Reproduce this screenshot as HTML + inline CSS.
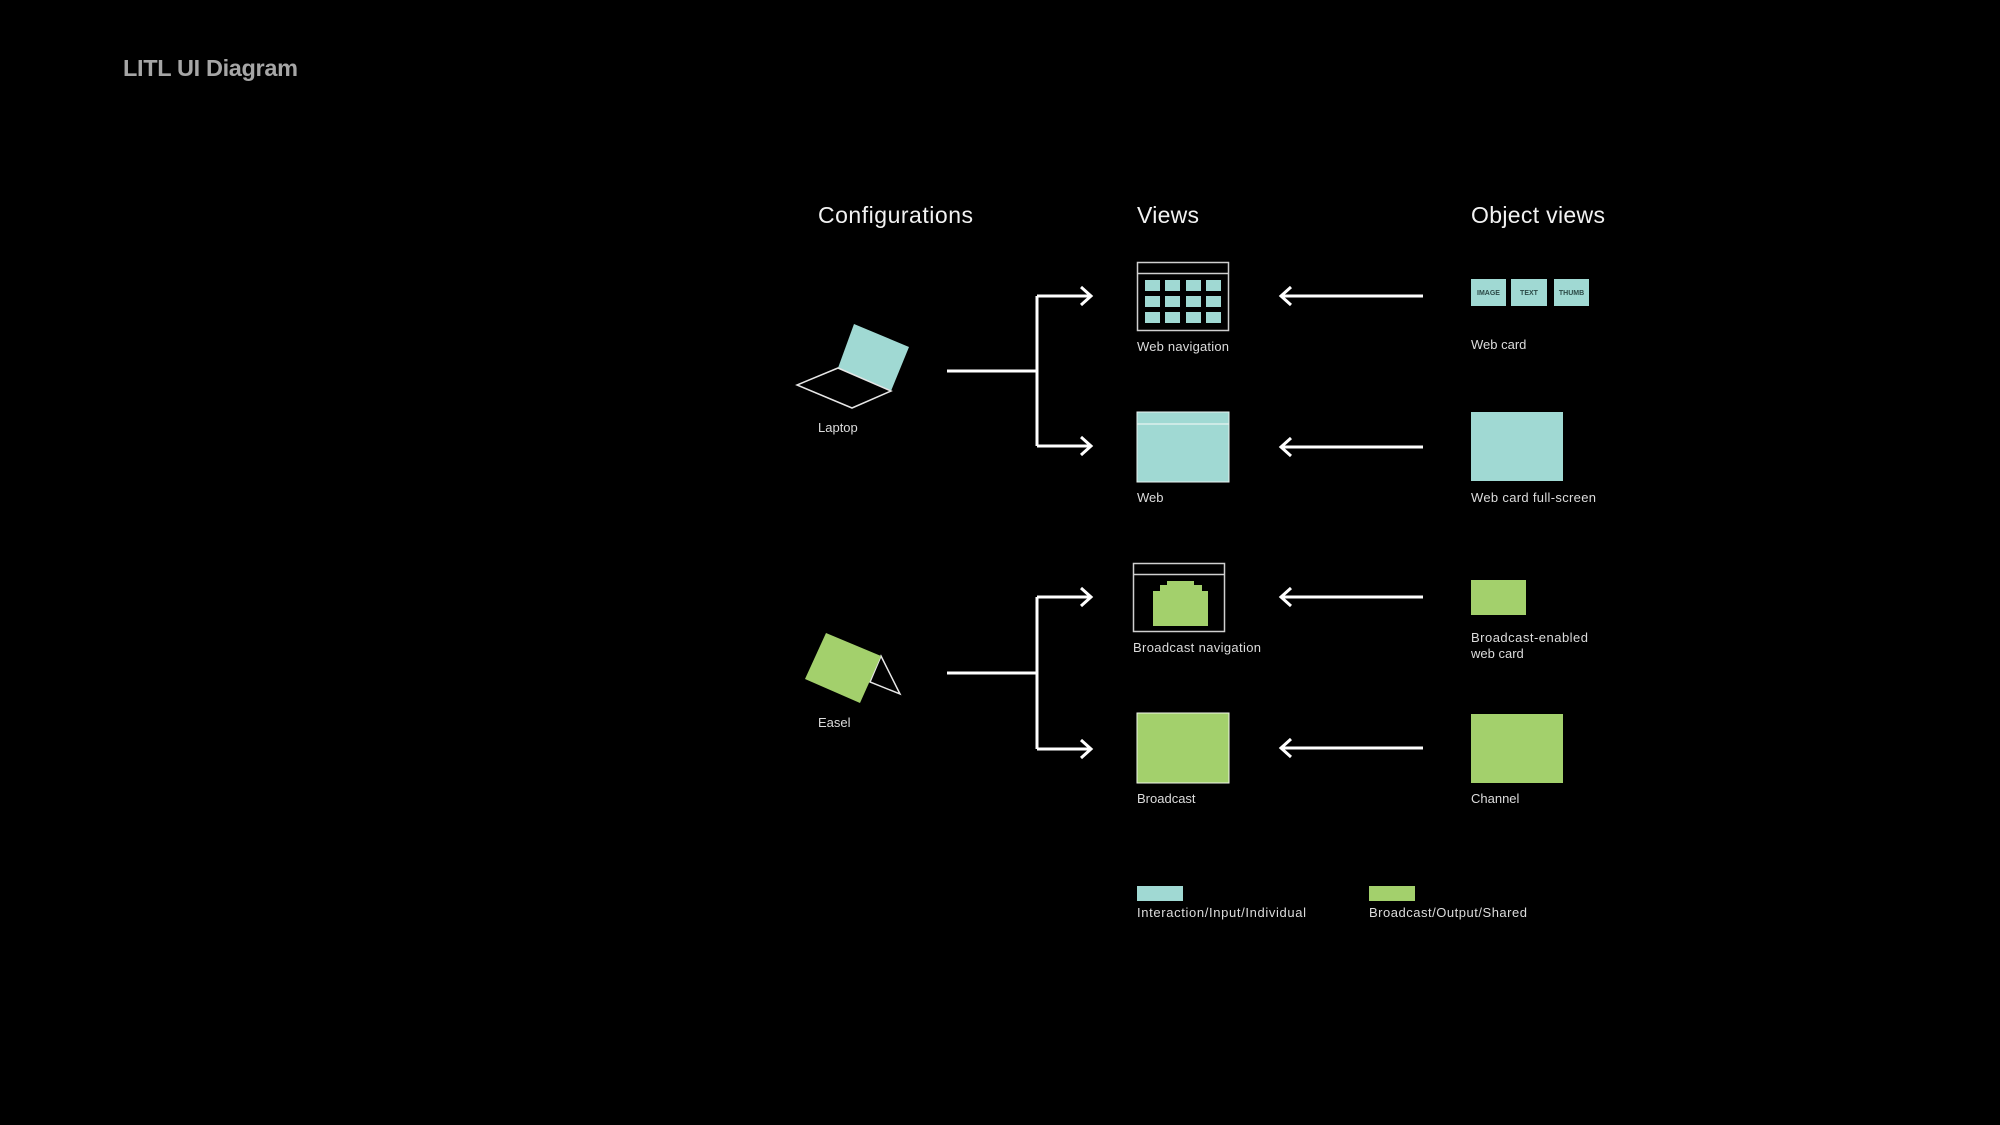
<!DOCTYPE html>
<html><head><meta charset="utf-8"><style>
html,body{margin:0;padding:0;background:#000;}
svg{display:block}
text{font-family:"Liberation Sans",sans-serif;}
</style></head><body>
<svg width="2000" height="1125" viewBox="0 0 2000 1125" xmlns="http://www.w3.org/2000/svg">
<rect width="2000" height="1125" fill="#000"/>
<text x="123" y="76" font-size="23.5" font-weight="bold" fill="#a6a6a6" textLength="175">LITL UI Diagram</text>

<g fill="#f2f2f2" font-size="23">
<text x="818" y="223" textLength="155">Configurations</text>
<text x="1137" y="223" textLength="62">Views</text>
<text x="1471" y="223" textLength="134">Object views</text>
</g>

<g fill="#dcdcdc" font-size="13">
<text x="818" y="432">Laptop</text>
<text x="818" y="727">Easel</text>
<text x="1137" y="351" textLength="92">Web navigation</text>
<text x="1137" y="502">Web</text>
<text x="1133" y="652" textLength="128">Broadcast navigation</text>
<text x="1137" y="803">Broadcast</text>
<text x="1471" y="349">Web card</text>
<text x="1471" y="502" textLength="125">Web card full-screen</text>
<text x="1471" y="642" textLength="117">Broadcast-enabled</text>
<text x="1471" y="658">web card</text>
<text x="1471" y="803">Channel</text>
<text x="1137" y="917" textLength="169">Interaction/Input/Individual</text>
<text x="1369" y="917" textLength="158">Broadcast/Output/Shared</text>
</g>

<!-- laptop -->
<polygon points="854,324 909,347 891,391 838,368" fill="#a0d9d3"/>
<polygon points="838,368 797,385 852,408 891,391" fill="none" stroke="#e6e6e6" stroke-width="1.5"/>
<!-- easel -->
<polygon points="881,656 900,694 870,682" fill="none" stroke="#e6e6e6" stroke-width="1.5"/>
<polygon points="826,633 881,656 860,703 805,679" fill="#a3d06c"/>

<!-- connectors -->
<g fill="none" stroke="#fff" stroke-width="3">
<path d="M947 371 H1037 M1037 296 V446 M1037 296 H1090 M1037 446 H1090"/>
<path d="M1081 287 L1091 296 L1081 305 M1081 437 L1091 446 L1081 455"/>
<path d="M947 673 H1037 M1037 597 V749 M1037 597 H1090 M1037 749 H1090"/>
<path d="M1081 588 L1091 597 L1081 606 M1081 740 L1091 749 L1081 758"/>
<path d="M1282 296 H1423 M1291 287 L1281 296 L1291 305"/>
<path d="M1282 447 H1423 M1291 438 L1281 447 L1291 456"/>
<path d="M1282 597 H1423 M1291 588 L1281 597 L1291 606"/>
<path d="M1282 748 H1423 M1291 739 L1281 748 L1291 757"/>
</g>

<!-- web navigation -->
<rect x="1137.5" y="262.5" width="91" height="68" fill="none" stroke="#cfcfcf" stroke-width="1.5"/>
<line x1="1137" y1="273.5" x2="1229" y2="273.5" stroke="#cfcfcf" stroke-width="1.5"/>
<g fill="#a0d9d3">
<rect x="1145" y="280" width="15" height="11"/><rect x="1165" y="280" width="15" height="11"/><rect x="1186" y="280" width="15" height="11"/><rect x="1206" y="280" width="15" height="11"/>
<rect x="1145" y="296" width="15" height="11"/><rect x="1165" y="296" width="15" height="11"/><rect x="1186" y="296" width="15" height="11"/><rect x="1206" y="296" width="15" height="11"/>
<rect x="1145" y="312" width="15" height="11"/><rect x="1165" y="312" width="15" height="11"/><rect x="1186" y="312" width="15" height="11"/><rect x="1206" y="312" width="15" height="11"/>
</g>

<!-- web -->
<rect x="1137" y="412" width="92" height="70" fill="#a0d9d3" stroke="#e8f4f2" stroke-width="1"/>
<line x1="1137" y1="424" x2="1229" y2="424" stroke="#e8f4f2" stroke-width="1.2"/>

<!-- broadcast navigation -->
<rect x="1133.5" y="563.5" width="91" height="68" fill="none" stroke="#cfcfcf" stroke-width="1.5"/>
<line x1="1133" y1="574.5" x2="1225" y2="574.5" stroke="#cfcfcf" stroke-width="1.5"/>
<polygon points="1153,626 1153,591 1160,591 1160,585 1167,585 1167,581 1194,581 1194,585 1202,585 1202,591 1208,591 1208,626" fill="#a3d06c"/>

<!-- broadcast -->
<rect x="1137" y="713" width="92" height="70" fill="#a3d06c" stroke="#f2f8ea" stroke-width="1"/>

<!-- web card chips -->
<g fill="#a0d9d3">
<rect x="1471" y="279" width="35" height="27"/>
<rect x="1511" y="279" width="36" height="27"/>
<rect x="1554" y="279" width="35" height="27"/>
</g>
<g fill="#2c4a47" font-size="7" font-weight="bold" text-anchor="middle">
<text x="1488.5" y="295">IMAGE</text>
<text x="1529" y="295">TEXT</text>
<text x="1571.5" y="295">THUMB</text>
</g>

<rect x="1471" y="412" width="92" height="69" fill="#a0d9d3"/>
<rect x="1471" y="580" width="55" height="35" fill="#a3d06c"/>
<rect x="1471" y="714" width="92" height="69" fill="#a3d06c"/>

<!-- legend -->
<rect x="1137" y="886" width="46" height="15" fill="#a0d9d3"/>
<rect x="1369" y="886" width="46" height="15" fill="#a3d06c"/>
</svg>
</body></html>
